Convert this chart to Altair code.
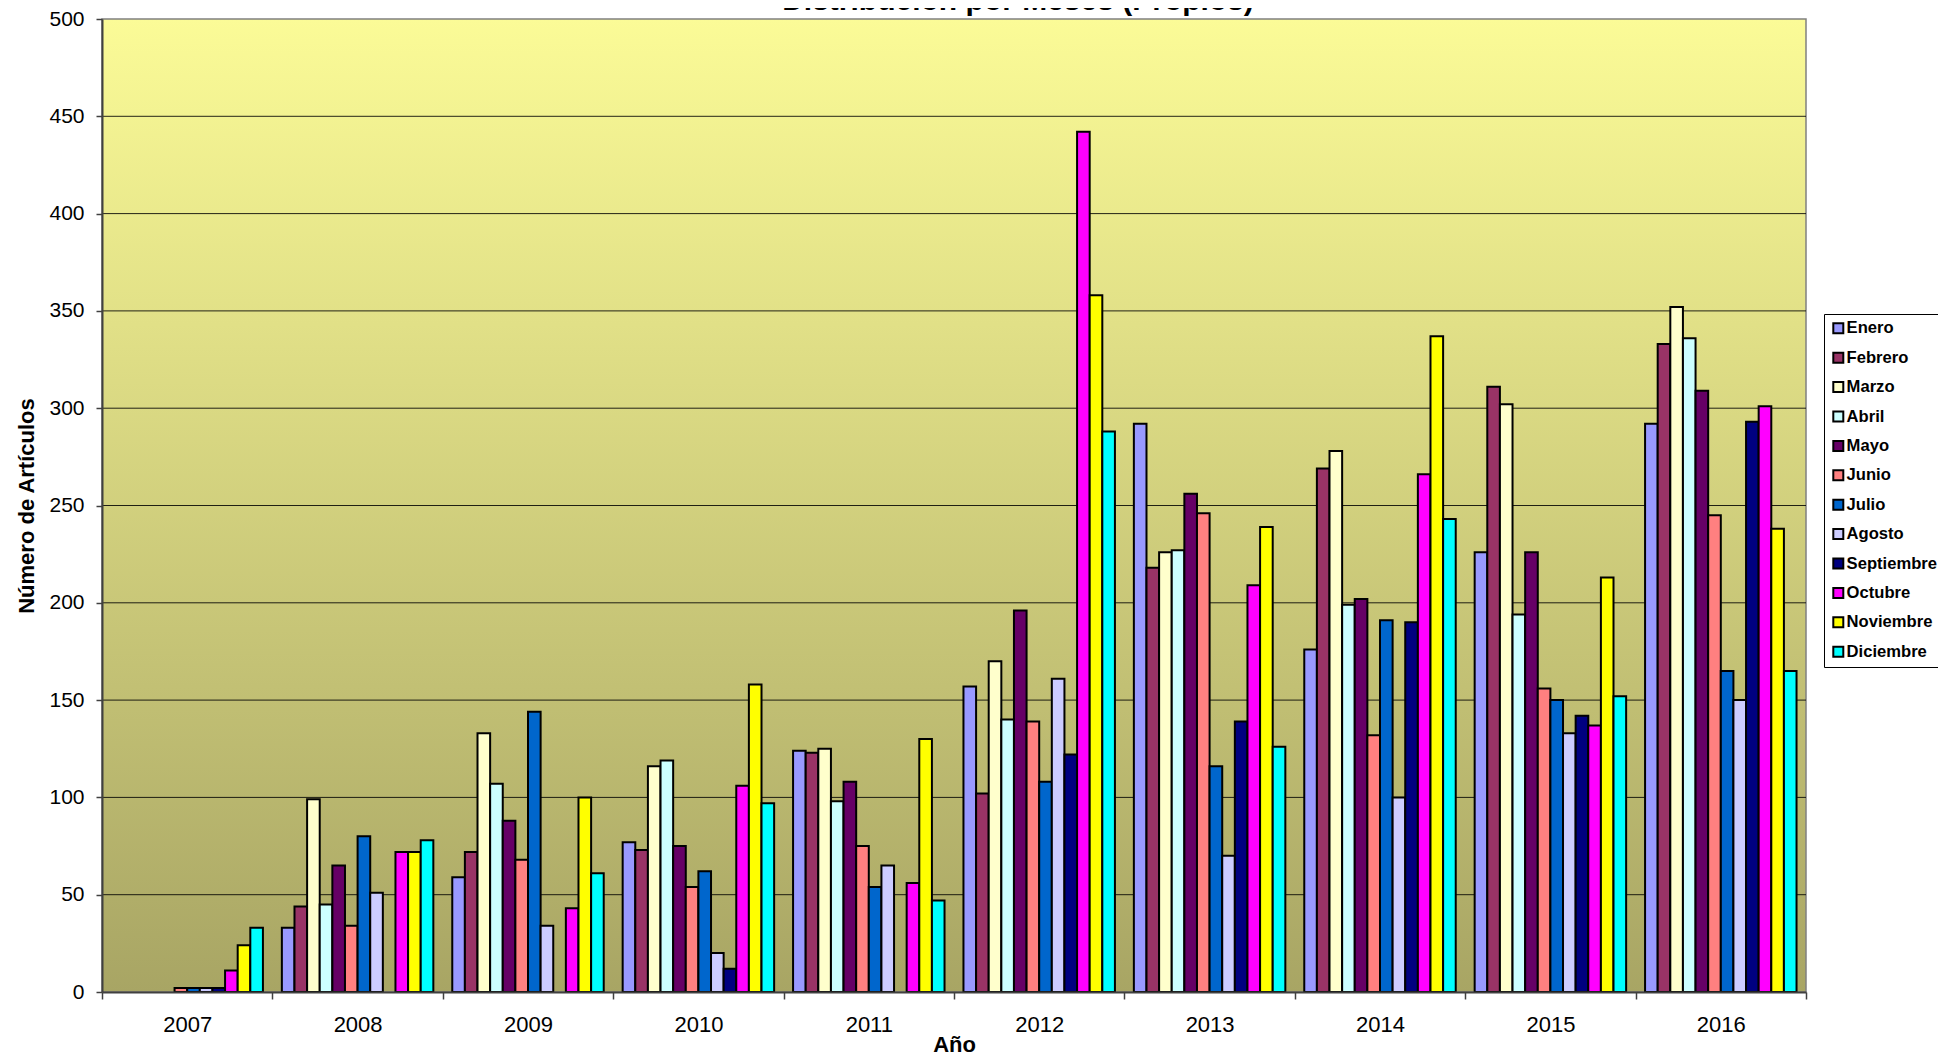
import altair as alt
import pandas as pd

months = ["Enero", "Febrero", "Marzo", "Abril", "Mayo", "Junio", "Julio",
          "Agosto", "Septiembre", "Octubre", "Noviembre", "Diciembre"]
month_colors = ["#9999FF", "#993366", "#FFFFCC", "#CCFFFF", "#660066", "#FF8080",
                "#0066CC", "#CCCCFF", "#000080", "#FF00FF", "#FFFF00", "#00FFFF"]
years = ["2007", "2008", "2009", "2010", "2011", "2012", "2013", "2014", "2015", "2016"]

v2007 = [0, 0, 0, 0, 0, 2, 2, 2, 2, 11, 24, 33]
v2008 = [33, 44, 99, 45, 65, 34, 80, 51, 0, 72, 72, 78]
v2009 = [59, 72, 133, 107, 88, 68, 144, 34, 0, 43, 100, 61]
v2010 = [77, 73, 116, 119, 75, 54, 62, 20, 12, 106, 158, 97]
v2011 = [124, 123, 125, 98, 108, 75, 54, 65, 0, 56, 130, 47]
v2012 = [157, 102, 170, 140, 196, 139, 108, 161, 122, 442, 358, 288]
v2013 = [292, 218, 226, 227, 256, 246, 116, 70, 139, 209, 239, 126]
v2014 = [176, 269, 278, 199, 202, 132, 191, 100, 190, 266, 337, 243]
v2015 = [226, 311, 302, 194, 226, 156, 150, 133, 142, 137, 213, 152]
v2016 = [292, 333, 352, 336, 309, 245, 165, 150, 293, 301, 238, 165]

y_ticks = [0, 50, 100, 150, 200, 250, 300, 350, 400, 450, 500]
grid_values = [50, 100, 150, 200, 250, 300, 350, 400, 450]

title_text = "Distribución por Meses (Propios)"
x_title = "Año"
y_title = "Número de Artículos"

series_by_year = [v2007, v2008, v2009, v2010, v2011, v2012, v2013, v2014, v2015, v2016]
rows = []
for yr, vals in zip(years, series_by_year):
    for m, v in zip(months, vals):
        rows.append({"year": yr, "month": m, "value": v})
df = pd.DataFrame(rows)

W, H = 1704, 973
FONT = "Liberation Sans"
AXC = "#404040"

bg = alt.Chart(pd.DataFrame({"a": [0]})).mark_rect(
    fill=alt.Gradient(
        gradient="linear",
        stops=[alt.GradientStop(color="#FBFB97", offset=0),
               alt.GradientStop(color="#A8A564", offset=1)],
        x1=0, x2=0, y1=0, y2=1),
    stroke="#808080", strokeWidth=1.5,
).encode(x=alt.value(0), x2=alt.value(W), y=alt.value(0), y2=alt.value(H))

yscale = alt.Scale(domain=[0, 500], nice=False, zero=True)

y_axis = alt.Axis(values=y_ticks, grid=False, title=y_title,
                  titleFontSize=22, titleFontWeight="bold", titleColor="black",
                  titleAngle=270, titleBaseline="alphabetic", titleAlign="center",
                  titleX=-69, titleY=H / 2,
                  labelFontSize=21, labelColor="black", labelPadding=12,
                  tickSize=6, tickColor=AXC, tickWidth=1.5,
                  domainColor=AXC, domainWidth=2, zindex=1)

grid = alt.Chart(pd.DataFrame({"value": grid_values})).mark_rule(
    color="#000000", strokeWidth=1, opacity=0.85
).encode(
    y=alt.Y("value:Q", scale=yscale, axis=y_axis),
    x=alt.value(0), x2=alt.value(W),
)

bars = alt.Chart(df).transform_filter("datum.value > 0").mark_bar(
    stroke="black", strokeWidth=2
).encode(
    x=alt.X("year:N", sort=years,
            scale=alt.Scale(domain=years, paddingInner=0, paddingOuter=0),
            axis=alt.Axis(title=x_title, titleFontSize=22, titleFontWeight="bold",
                          titleColor="black", titleBaseline="alphabetic", titleY=59,
                          labelFontSize=22, labelColor="black", labelAngle=0,
                          labelPadding=15, tickSize=7, tickBand="extent",
                          tickColor=AXC, tickWidth=1.5, domainColor=AXC,
                          domainWidth=2, grid=False, zindex=1)),
    xOffset=alt.XOffset("month:N", sort=months,
                        scale=alt.Scale(domain=months, paddingInner=0, paddingOuter=0.75)),
    y=alt.Y("value:Q", scale=yscale, axis=y_axis),
    color=alt.Color("month:N", sort=months,
                    scale=alt.Scale(domain=months, range=month_colors),
                    legend=alt.Legend(orient="none", legendX=1722, legendY=295,
                                      title=None, direction="vertical",
                                      fillColor="white", strokeColor="black",
                                      padding=6, symbolType="square", symbolSize=100,
                                      symbolStrokeColor="black", symbolStrokeWidth=2,
                                      symbolOpacity=1,
                                      labelFontSize=16.6, labelFontWeight="bold",
                                      labelColor="black", rowPadding=10.4,
                                      labelOffset=0)),
)

title = alt.Chart(pd.DataFrame({"t": [title_text]})).mark_text(
    fontSize=30, fontWeight="bold", baseline="alphabetic", align="center", color="black"
).encode(x=alt.value(916), y=alt.value(-9), text="t:N")

chart = alt.layer(bg, grid, bars, title).properties(
    width=W, height=H,
    autosize=alt.AutoSizeParams(type="none"),
    padding={"left": 94, "top": 11, "right": 132, "bottom": 62},
).configure(font=FONT).configure_view(stroke=None)

chart.save("out.html", embed_options={"renderer": "svg", "actions": False})
